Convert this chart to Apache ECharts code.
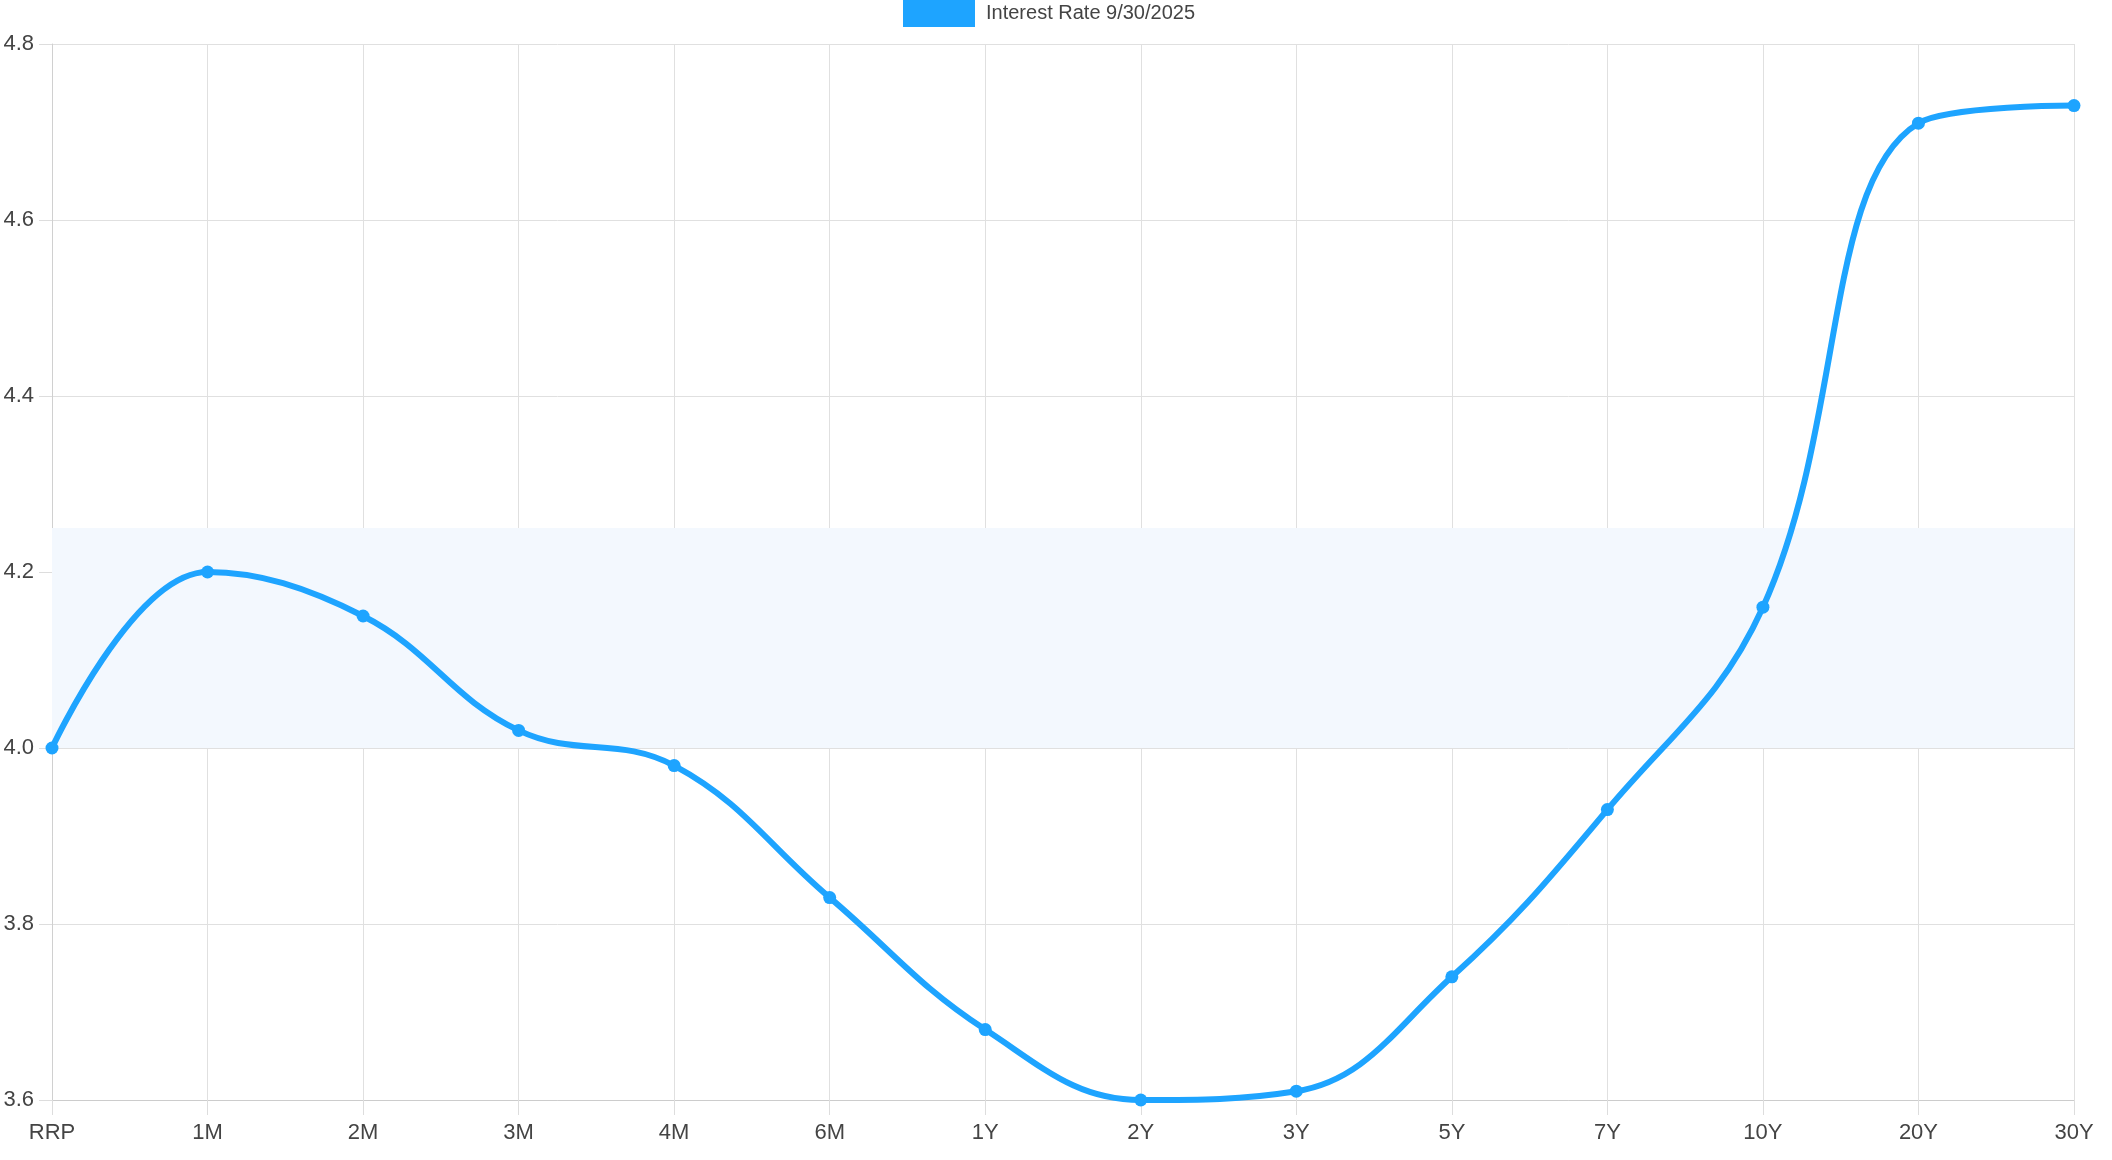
<!DOCTYPE html>
<html><head><meta charset="utf-8">
<script src="https://cdn.jsdelivr.net/npm/echarts@6/dist/echarts.min.js"></script>
<style>html,body{margin:0;padding:0;background:#fff}#c{width:2112px;height:1160px}</style>
</head><body><div id="c"></div>
<script>
const categories = ['RRP','1M','2M','3M','4M','6M','1Y','2Y','3Y','5Y','7Y','10Y','20Y','30Y'];
const rates = [4.00,4.20,4.15,4.02,3.98,3.83,3.68,3.60,3.61,3.74,3.93,4.16,4.71,4.73];
const seriesName = 'Interest Rate 9/30/2025';
const band = [4.0, 4.25];
const FONT = '"Liberation Sans", Arial, sans-serif';
const chart = echarts.init(document.getElementById('c'));
chart.setOption({
  animation:false,
  legend:{top:-6,left:898,itemWidth:72,itemHeight:28,itemGap:10,
    icon:'rect',textStyle:{fontFamily:FONT,fontSize:20,color:'#444',padding:[0,0,0,6]},data:[seriesName]},
  grid:{left:52,right:38,top:44,bottom:60},
  xAxis:{type:'category',data:categories,boundaryGap:false,
    axisLine:{lineStyle:{color:'#ccc'}},
    axisTick:{show:true,length:15,lineStyle:{color:'#ddd'}},
    splitLine:{show:true,lineStyle:{color:'#e0e0e0'}},
    axisLabel:{fontFamily:FONT,fontSize:22,color:'#444',margin:22}},
  yAxis:{type:'value',min:3.6,max:4.8,interval:0.2,
    axisLine:{show:true,lineStyle:{color:'#d0d0d0'}},
    axisTick:{show:true,length:13,lineStyle:{color:'#ddd'}},
    splitLine:{lineStyle:{color:'#e0e0e0'}},
    axisLabel:{fontFamily:FONT,fontSize:22,color:'#444',margin:18,formatter:v=>v.toFixed(1)}},
  series:[{name:seriesName,type:'line',data:rates,smooth:0.4,
    color:'#1ea4ff',
    lineStyle:{width:6,color:'#1ea4ff'},
    symbol:'circle',symbolSize:13,itemStyle:{color:'#1ea4ff'},
    markArea:{silent:true,itemStyle:{color:'#f3f8fe'},data:[[{yAxis:band[0]},{yAxis:band[1]}]]},
    z:3}]
});
</script></body></html>
